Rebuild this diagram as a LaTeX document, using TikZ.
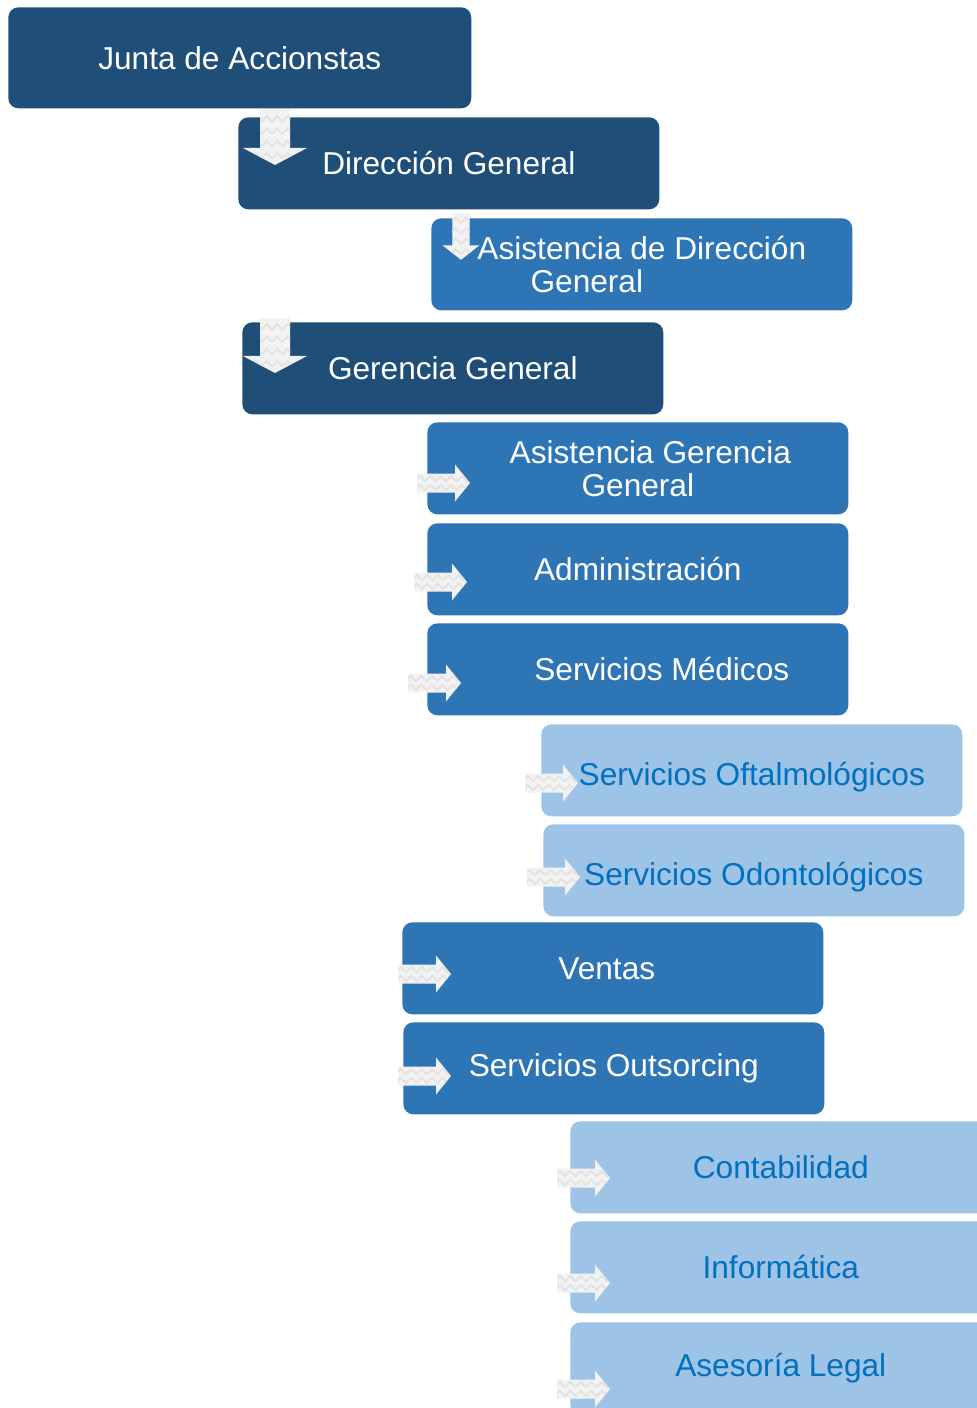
\documentclass[tikz,border=0pt]{standalone}
\usepackage{fontspec}
\setmainfont{Liberation Sans}
\usetikzlibrary{decorations.pathmorphing}

\definecolor{azuloscuro}{HTML}{1F4E79}
\definecolor{azulmedio}{HTML}{2E75B6}
\definecolor{azulclaro}{HTML}{9DC3E6}
\definecolor{textoclaro}{HTML}{0070C0}
\definecolor{flechagris}{HTML}{F2F2F2}

\tikzset{
  caja/.style={anchor=north west, rounded corners=0.2cm, inner sep=0pt,
    minimum width=8.42cm, minimum height=1.84cm, align=center,
    font=\fontsize{18}{18.7}\selectfont},
  oscura/.style={caja, fill=azuloscuro, text=white},
  media/.style={caja, fill=azulmedio, text=white},
  clara/.style={caja, fill=azulclaro, text=textoclaro},
  onda/.style={draw=gray!22, line width=1.1pt, decorate,
    decoration={zigzag, segment length=6pt, amplitude=1.5pt}},
  % flecha hacia la derecha, origen en la cola
  pics/derecha/.style={code={
    \path[fill=flechagris, path picture={
      \draw[onda] ([yshift=2.5pt]path picture bounding box.west) -- ([yshift=2.5pt]path picture bounding box.east);
      \draw[onda] ([yshift=-2.5pt]path picture bounding box.west) -- ([yshift=-2.5pt]path picture bounding box.east);
    }] (0,-9.5) -- (38,-9.5) -- (38,-18.5) -- (53,0) -- (38,18.5) -- (38,9.5) -- (0,9.5) -- cycle;
  }},
  % flecha hacia abajo, origen arriba al centro
  pics/abajo/.style={code={
    \path[fill=flechagris, path picture={
      \foreach \d in {5,12,19,26}
        \draw[onda] ([yshift=-\d pt]path picture bounding box.north west) -- ([yshift=-\d pt]path picture bounding box.north east);
    }] (-15,0) -- (15,0) -- (15,38) -- (32,38) -- (0,55) -- (-32,38) -- (-15,38) -- cycle;
  }},
}

\begin{document}
\begin{tikzpicture}[x=0.02cm, y=-0.02cm]
    \useasboundingbox (0,0) rectangle (976,1408);

    \node[oscura, minimum width=9.26cm, minimum height=2.02cm] (junta) at (8,7) {Junta de Accionstas};
    \node[oscura] (direccion) at (238,117) {Dirección General};
    \node[media] (asisdir) at (431,218) {Asistencia de Dirección\\General\hspace*{2.2cm}};
    \node[oscura] (gerencia) at (242,322) {Gerencia General};
    \node[media] (asisger) at (427,422) {\hspace*{0.5cm}Asistencia Gerencia\\General};
    \node[media] (admin) at (427,523) {Administración};
    \node[media] (medicos) at (427,623) {\hspace*{0.96cm}Servicios Médicos};
    \node[clara] (oftal) at (541,724) {\rule{0pt}{0.74cm}Servicios Oftalmológicos};
    \node[clara] (odonto) at (543,824) {\rule{0pt}{0.74cm}Servicios Odontológicos};
    \node[media] (ventas) at (402,922) {Ventas\hspace*{0.24cm}};
    \node[media] (outs) at (403,1022) {Servicios Outsorcing};
    \node[clara] (conta) at (570,1121) {Contabilidad};
    \node[clara] (info) at (570,1221) {Informática};
    \node[clara] (legal) at (570,1322) {Asesoría Legal};

    \pic at (275,110) {abajo};
    \pic[xscale=0.58, yscale=0.85] at (461,213) {abajo};
    \pic at (275,318) {abajo};

    \pic at (417,483) {derecha};
    \pic at (414,582) {derecha};
    \pic at (408,683) {derecha};
    \pic at (525,783) {derecha};
    \pic at (527,877) {derecha};
    \pic at (398,974) {derecha};
    \pic at (398,1076) {derecha};
    \pic at (557,1178) {derecha};
    \pic at (557,1283) {derecha};
    \pic at (557,1389) {derecha};
\end{tikzpicture}
\end{document}
